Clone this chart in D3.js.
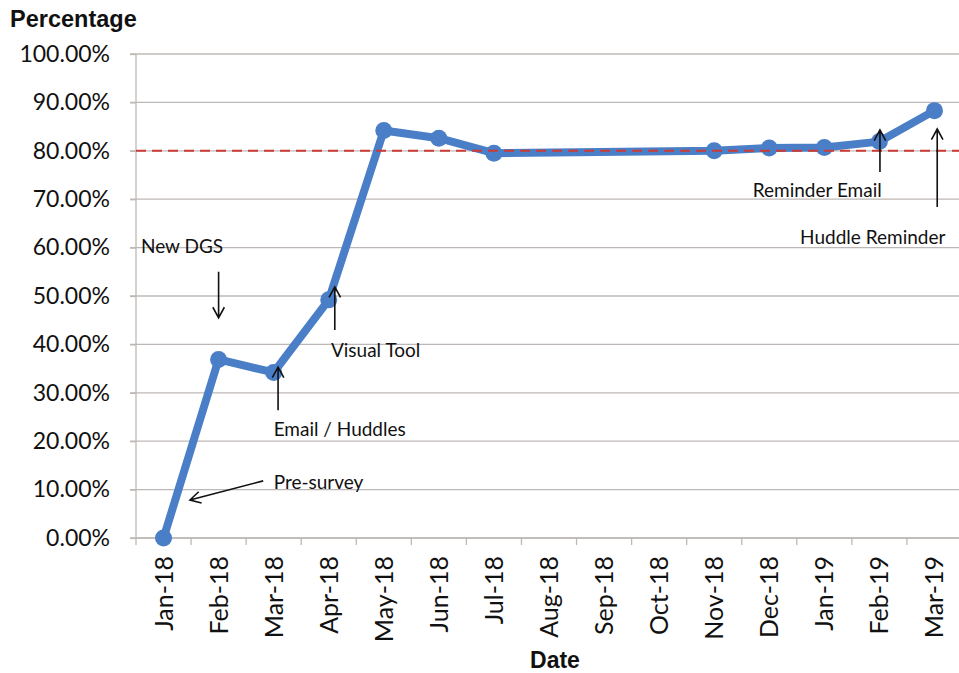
<!DOCTYPE html>
<html>
<head>
<meta charset="utf-8">
<script src="https://cdn.jsdelivr.net/npm/d3@7"></script>
<style>
  html, body { margin: 0; padding: 0; background: #fff; }
  svg { display: block; }
</style>
</head>
<body>
<svg id="chart" width="959" height="673"></svg>
<script>
// Monthly compliance percentage
const months = ["Jan-18", "Feb-18", "Mar-18", "Apr-18", "May-18", "Jun-18", "Jul-18",
                "Aug-18", "Sep-18", "Oct-18", "Nov-18", "Dec-18", "Jan-19", "Feb-19", "Mar-19"];
const values = [0, 36.9, 34.2, 49.2, 84.2, 82.6, 79.5, null, null, null, 80.0, 80.6, 80.7, 81.9, 88.3];
const target = 80;
const yTicks = [0, 10, 20, 30, 40, 50, 60, 70, 80, 90, 100];

// Intervention notes: label anchor (month index, %) and arrow from/to (month index, %)
const notes = [
  { text: "New DGS",         at: [-0.41, 60.3], from: [1.0, 55.0],  to: [1.0, 45.5] },
  { text: "Email / Huddles", at: [2.0, 22.5],   from: [2.08, 26.4], to: [2.08, 35.3] },
  { text: "Visual Tool",     at: [3.04, 38.8],  from: [3.11, 43.0], to: [3.11, 51.9] },
  { text: "Pre-survey",      at: [2.0, 11.6],   from: [1.81, 11.8], to: [0.48, 7.85] },
  { text: "Reminder Email",  at: [10.7, 71.9],  from: [13.01, 75.6], to: [13.01, 84.3] },
  { text: "Huddle Reminder", at: [11.56, 62.2], from: [14.05, 68.4], to: [14.05, 84.5] }
];

const svg = d3.select("#chart");
const plotL = 136, plotR = 962, plotT = 54, plotB = 538;

const x = d3.scaleBand().domain(months).range([plotL, plotR]).padding(0);
const bw = x.bandwidth();
const xi = i => plotL + bw * (i + 0.5);
const y = d3.scaleLinear().domain([0, 100]).range([plotB, plotT]);

const gridColor = "#bdb8b6";
const bodyFont = "Lato, 'Open Sans', sans-serif";

// horizontal gridlines
svg.append("g")
  .selectAll("line")
  .data(yTicks)
  .join("line")
  .attr("x1", plotL - 6).attr("x2", 959)
  .attr("y1", d => y(d)).attr("y2", d => y(d))
  .attr("stroke", gridColor).attr("stroke-width", 1.3);

// y axis labels
const yAxis = svg.append("g")
  .attr("transform", `translate(${plotL},0)`)
  .call(d3.axisLeft(y).tickValues(yTicks).tickSize(6).tickFormat(d => d.toFixed(2) + "%"));
yAxis.select(".domain").attr("stroke", gridColor).attr("stroke-width", 1.3).attr("d", `M0,${plotT}V${plotB}`);
yAxis.selectAll(".tick line").attr("stroke", gridColor).attr("stroke-width", 1.3);
yAxis.selectAll(".tick text")
  .attr("x", -26)
  .attr("font-family", bodyFont).attr("font-size", 23).attr("fill", "#111");

// x axis with ticks between categories
const xAxis = svg.append("g")
  .attr("transform", `translate(0,${plotB})`)
  .call(d3.axisBottom(x).tickSize(0).tickPadding(0));
xAxis.select(".domain").attr("stroke", gridColor).attr("stroke-width", 1.3).attr("d", `M${plotL},0H959`);
xAxis.selectAll(".tick text")
  .attr("transform", "rotate(-90)")
  .attr("x", -18).attr("y", 0).attr("dy", "0.36em")
  .attr("text-anchor", "end")
  .attr("font-family", bodyFont).attr("font-size", 25).attr("fill", "#111");
svg.append("g")
  .selectAll("line")
  .data(d3.range(months.length + 1))
  .join("line")
  .attr("x1", i => plotL + i * bw).attr("x2", i => plotL + i * bw)
  .attr("y1", plotB).attr("y2", plotB + 7)
  .attr("stroke", gridColor).attr("stroke-width", 1.3);

// series line, gaps bridged across missing months
const pts = months.map((m, i) => ({ m, v: values[i] })).filter(d => d.v != null);
const line = d3.line().x(d => x(d.m) + bw / 2).y(d => y(d.v));
svg.append("path")
  .datum(pts)
  .attr("d", line)
  .attr("fill", "none")
  .attr("stroke", "#4a7fc7")
  .attr("stroke-width", 8)
  .attr("stroke-linejoin", "round");
svg.append("g")
  .selectAll("circle")
  .data(pts)
  .join("circle")
  .attr("cx", d => x(d.m) + bw / 2)
  .attr("cy", d => y(d.v))
  .attr("r", 8.5)
  .attr("fill", "#4a7fc7");

// target line
svg.append("line")
  .attr("x1", plotL).attr("x2", 959)
  .attr("y1", y(target)).attr("y2", y(target))
  .attr("stroke", "#cc3b36").attr("stroke-width", 2)
  .attr("stroke-dasharray", "10,6");

// notes and arrows
const ng = svg.append("g");
notes.forEach(n => {
  ng.append("text")
    .attr("x", xi(n.at[0])).attr("y", y(n.at[1]))
    .attr("dy", "0.35em")
    .attr("font-family", bodyFont).attr("font-size", 19).attr("fill", "#111")
    .text(n.text);
  const x1 = xi(n.from[0]), y1 = y(n.from[1]), x2 = xi(n.to[0]), y2 = y(n.to[1]);
  const ang = Math.atan2(y2 - y1, x2 - x1);
  const hl = 12, ha = 0.5;
  ng.append("path")
    .attr("d", `M${x1},${y1}L${x2},${y2}` +
      `M${x2 - hl * Math.cos(ang - ha)},${y2 - hl * Math.sin(ang - ha)}L${x2},${y2}` +
      `L${x2 - hl * Math.cos(ang + ha)},${y2 - hl * Math.sin(ang + ha)}`)
    .attr("fill", "none").attr("stroke", "#111").attr("stroke-width", 1.6);
});

// axis titles
svg.append("text")
  .attr("x", 10).attr("y", 27)
  .attr("font-family", "'Liberation Sans', Arial, sans-serif")
  .attr("font-weight", "bold").attr("font-size", 23.5).attr("fill", "#111")
  .text("Percentage");
svg.append("text")
  .attr("x", 555).attr("y", 668)
  .attr("text-anchor", "middle")
  .attr("font-family", "'Liberation Sans Narrow', 'Liberation Sans', Arial, sans-serif")
  .attr("font-weight", "bold").attr("font-size", 23).attr("fill", "#111")
  .text("Date");
</script>
</body>
</html>
